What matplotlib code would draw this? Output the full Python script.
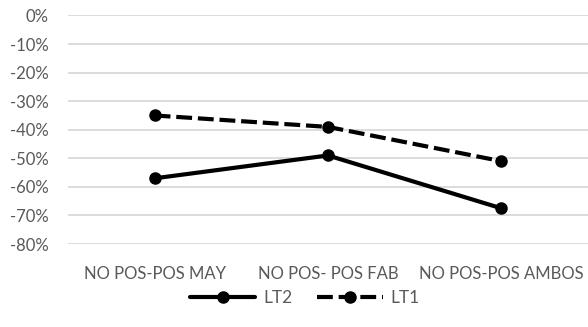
import matplotlib
matplotlib.use("Agg")
import matplotlib.pyplot as plt
from matplotlib.ticker import FuncFormatter

categories = ["NO POS-POS MAY", "NO POS- POS FAB", "NO POS-POS AMBOS"]
lt2 = [-57, -49, -67.5]
lt1 = [-35, -39, -51]
yticks = [0, -10, -20, -30, -40, -50, -60, -70, -80]

plt.rcParams['font.family'] = ['Lato', 'DejaVu Sans']
fig = plt.figure(figsize=(5.88, 3.27), dpi=100)
ax = fig.add_axes([0.1156, 0.2538, 0.8844, 0.6988])

x = range(len(categories))
ax.plot(x, lt2, color='black', lw=3, marker='o', ms=8, label='LT2',
        solid_capstyle='round')
ax.plot(x, lt1, color='black', lw=3, marker='o', ms=8, label='LT1',
        dashes=(3.8, 1.4))

ax.set_xlim(-0.5, len(categories) - 0.5)
ax.set_ylim(-80, 0)
ax.set_yticks(yticks)
ax.yaxis.set_major_formatter(FuncFormatter(lambda v, p: f"{int(round(v))}%"))
ax.set_xticks(list(x))
ax.set_xticklabels(categories)
ax.grid(axis='y', color='#d9d9d9', lw=1.3)
ax.set_axisbelow(True)
for s in ax.spines.values():
    s.set_visible(False)
ax.tick_params(length=0, labelsize=12, labelcolor='#595959')
ax.tick_params(axis='x', pad=16)
ax.tick_params(axis='y', pad=14)

leg = fig.legend(loc='center', bbox_to_anchor=(0.518, 0.089), ncol=2,
                 frameon=False, fontsize=12.5, handlelength=3.8,
                 numpoints=1, columnspacing=1.4, handletextpad=0.45)
for t in leg.get_texts():
    t.set_color('#595959')

fig.savefig("out.png", dpi=100)
